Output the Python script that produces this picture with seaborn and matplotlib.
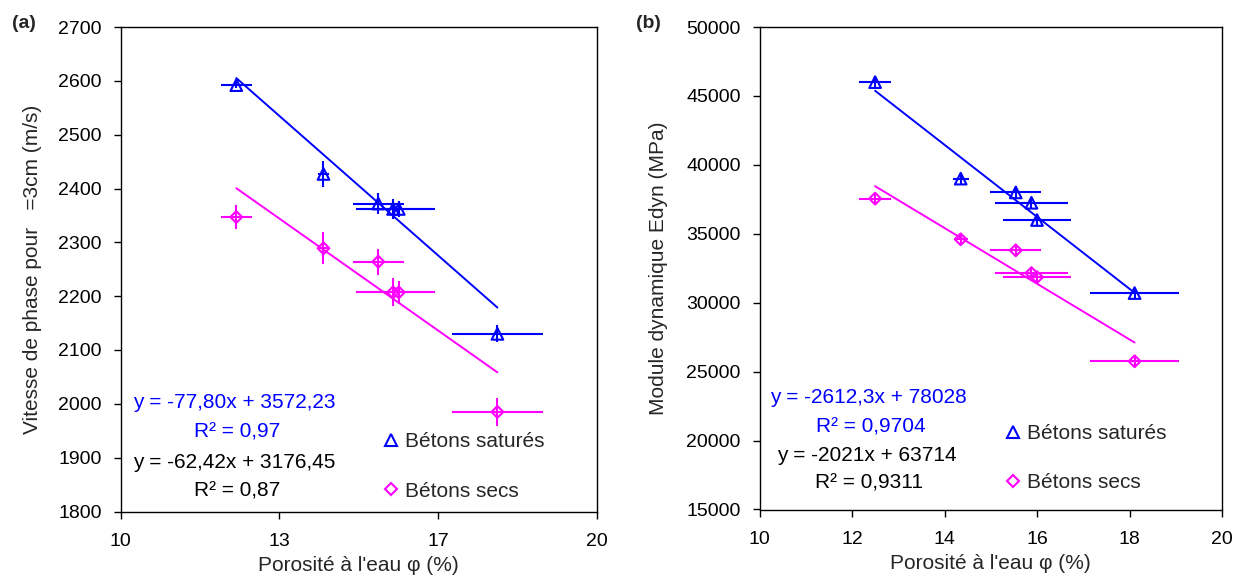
import numpy as np
import pandas as pd
import matplotlib
matplotlib.use("Agg")
import matplotlib.pyplot as plt
from matplotlib.lines import Line2D
import seaborn as sns

# ---------------- data ----------------
# Panel (a): phase velocity
a_phi_sat = [12.43, 14.26, 15.41, 15.72, 15.84, 17.91]
a_v_sat = [2592, 2427, 2372, 2362, 2362, 2130]
a_xerr_sat = [0.33, 0.12, 0.54, 0.77, 0.77, 0.96]
a_yerr_sat = [5, 25, 19, 18, 15, 16]

a_phi_dry = [12.43, 14.26, 15.41, 15.72, 15.84, 17.91]
a_v_dry = [2347, 2289, 2264, 2207, 2207, 1985]
a_xerr_dry = [0.33, 0.12, 0.54, 0.77, 0.77, 0.96]
a_yerr_dry = [22, 30, 24, 26, 21, 26]

a_fit_sat = (-77.80, 3572.23)
a_fit_dry = (-62.42, 3176.45)
a_eq_sat = ["y = -77,80x + 3572,23", "R² = 0,97"]
a_eq_dry = ["y = -62,42x + 3176,45", "R² = 0,87"]
a_yticks = [1800, 1900, 2000, 2100, 2200, 2300, 2400, 2500, 2600, 2700]
a_xtick_labels = ["10", "13", "17", "20"]

# Panel (b): dynamic modulus
b_phi_sat = [12.5, 14.35, 15.54, 15.88, 16.0, 18.11]
b_e_sat = [46000, 39000, 38000, 37250, 36000, 30700]
b_xerr_sat = [0.34, 0.17, 0.55, 0.79, 0.73, 0.97]
b_yerr_sat = [450, 400, 450, 400, 400, 400]

b_phi_dry = [12.5, 14.35, 15.54, 15.88, 16.0, 18.11]
b_e_dry = [37550, 34600, 33800, 32150, 31850, 25750]
b_xerr_dry = [0.34, 0.15, 0.55, 0.79, 0.73, 0.97]
b_yerr_dry = [400, 350, 400, 400, 350, 350]

b_fit_sat = (-2612.3, 78028)
b_fit_dry = (-2021, 63714)
b_eq_sat = ["y = -2612,3x + 78028", "R² = 0,9704"]
b_eq_dry = ["y = -2021x + 63714", "R² = 0,9311"]
b_yticks = [15000, 20000, 25000, 30000, 35000, 40000, 45000, 50000]
b_xticks = [10, 12, 14, 16, 18, 20]

labels = ["Bétons saturés", "Bétons secs"]
BLUE = "#0000FF"
MAG = "#FF00FF"

# ---------------- style ----------------
sns.set_style("white")
plt.rcParams["font.family"] = ["Liberation Sans", "DejaVu Sans"]
FS = 15      # labels, annotations, legend
FT = 14      # tick labels

W, H = 1244, 578
fig = plt.figure(figsize=(W / 100, H / 100), dpi=100)


def px_axes(l, t, r, b):
    return fig.add_axes([l / W, 1 - b / H, (r - l) / W, (b - t) / H])


def draw_panel(ax, phis, ys, xerrs, yerrs, fits, eqs, eq_pos, leg_anchor):
    colors = [BLUE, MAG]
    markers = ["^", "D"]
    msizes = [70, 36]
    for i in range(2):
        df = pd.DataFrame({"phi": phis[i], "val": ys[i]})
        ax.errorbar(df["phi"], df["val"], xerr=xerrs[i], yerr=yerrs[i],
                    fmt="none", ecolor=colors[i], elinewidth=1.5, capsize=0, zorder=2)
        sns.scatterplot(data=df, x="phi", y="val", ax=ax, marker=markers[i],
                        s=msizes[i], facecolors="none", edgecolor=colors[i],
                        linewidth=1.5, zorder=3, legend=False)
        xs = np.array([min(phis[i]), max(phis[i])])
        fdf = pd.DataFrame({"phi": xs, "val": fits[i][0] * xs + fits[i][1]})
        sns.lineplot(data=fdf, x="phi", y="val", ax=ax, color=colors[i],
                     linewidth=1.4, zorder=2, legend=False)
    # equations
    txt_colors = [BLUE, BLUE, "black", "black"]
    lines = eqs[0] + eqs[1]
    for (x, y), s, c in zip(eq_pos, lines, txt_colors):
        ax.text(x, y, s, color=c, fontsize=FS, transform=ax.transAxes,
                ha="left", va="center")
    handles = [
        Line2D([], [], marker="^", linestyle="none", markerfacecolor="none",
               markeredgecolor=BLUE, markersize=8.4, markeredgewidth=1.5),
        Line2D([], [], marker="D", linestyle="none", markerfacecolor="none",
               markeredgecolor=MAG, markersize=6.0, markeredgewidth=1.5),
    ]
    ax.legend(handles, labels, loc="center left", bbox_to_anchor=leg_anchor,
              frameon=False, fontsize=FS, handlelength=0.8, handletextpad=0.27,
              labelspacing=1.45, borderpad=0, borderaxespad=0)
    ax.set_xlabel("Porosité à l'eau φ (%)", fontsize=FS, labelpad=4)
    for s in ax.spines.values():
        s.set_visible(True)
        s.set_color("black")
        s.set_linewidth(1.0)
    ax.tick_params(axis="x", direction="out", length=5, width=1, pad=10.5,
                   labelsize=FT, bottom=True, colors="black")
    ax.tick_params(axis="y", direction="out", length=5, width=1, pad=8.5,
                   labelsize=FT, left=True, colors="black")
    ax.grid(False)


# Panel (a)
axa = px_axes(120.5, 27, 597, 511.5)
draw_panel(axa, [a_phi_sat, a_phi_dry], [a_v_sat, a_v_dry],
           [a_xerr_sat, a_xerr_dry], [a_yerr_sat, a_yerr_dry],
           [a_fit_sat, a_fit_dry], [a_eq_sat, a_eq_dry],
           [(0.027, 0.226), (0.155, 0.165), (0.027, 0.102), (0.155, 0.043)],
           (0.550, 0.093))
axa.set_xlim(10, 20)
axa.set_ylim(1800, 2700)
axa.set_xticks(np.linspace(10, 20, 4))
axa.set_xticklabels(a_xtick_labels)
axa.set_yticks(a_yticks)
axa.set_ylabel("Vitesse de phase pour   =3cm (m/s)", fontsize=FS)
axa.yaxis.set_label_coords(-0.164, 0.5)
fig.text(11.7 / W, 1 - 23.3 / H, "(a)", fontsize=14, fontweight="bold", va="center", ha="left")

# Panel (b)
axb = px_axes(759.5, 27, 1222, 509.5)
draw_panel(axb, [b_phi_sat, b_phi_dry], [b_e_sat, b_e_dry],
           [b_xerr_sat, b_xerr_dry], [b_yerr_sat, b_yerr_dry],
           [b_fit_sat, b_fit_dry], [b_eq_sat, b_eq_dry],
           [(0.0227, 0.2325), (0.122, 0.170), (0.0385, 0.1115), (0.120, 0.054)],
           (0.5295, 0.106))
axb.set_xlim(10, 20)
axb.set_ylim(15000, 50000)
axb.set_xticks(b_xticks)
axb.set_yticks(b_yticks)
axb.set_ylabel("Module dynamique Edyn (MPa)", fontsize=FS)
axb.yaxis.set_label_coords(-0.197, 0.5)
fig.text(636 / W, 1 - 23.3 / H, "(b)", fontsize=14, fontweight="bold", va="center", ha="left")

fig.savefig("out.png", dpi=100, facecolor="white")
